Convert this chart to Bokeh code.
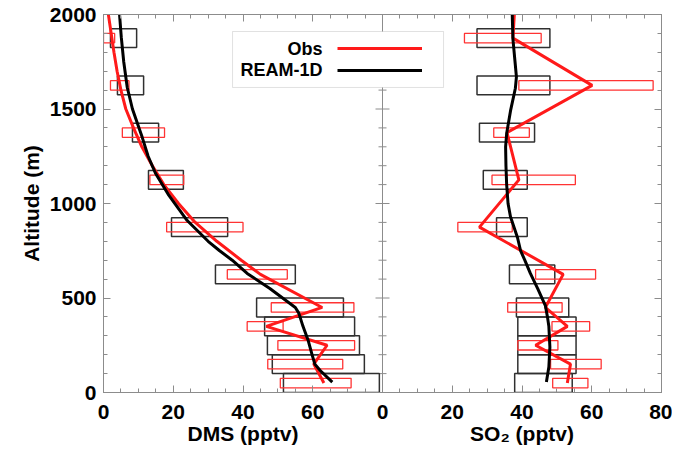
from bokeh.plotting import figure
from bokeh.models import (Range1d, LinearAxis, FixedTicker, Span, Label,
                          BoxAnnotation, Legend, LegendItem)
from bokeh.embed import file_html
from bokeh.resources import INLINE

# ---------------- data ----------------
# altitude bins (m) of the aircraft profiles
bin_alt = [1875, 1625, 1375, 1125, 875, 625, 450, 350, 250, 150, 50]

# DMS (pptv): model (black boxes) and observation (red boxes) ranges
dms_model_lo = [2.0, 4.0, 8.3, 12.9, 19.5, 32.1, 43.9, 46.2, 47.0, 48.4, 51.6]
dms_model_hi = [9.5, 11.5, 15.8, 22.9, 35.6, 55.0, 68.8, 72.0, 73.4, 74.8, 79.1]
dms_obs_lo = [0.0, 2.0, 5.4, 13.3, 18.1, 35.5, 48.1, 41.2, 50.0, 47.1, 50.7]
dms_obs_hi = [3.2, 7.3, 17.5, 23.0, 40.0, 52.7, 71.8, 51.5, 72.0, 68.6, 71.0]

# SO2 (pptv): model and observation ranges
so2_model_lo = [27.1, 27.1, 27.8, 28.9, 32.7, 36.4, 38.4, 38.8, 38.8, 38.8, 37.9]
so2_model_hi = [48.0, 48.0, 43.6, 41.5, 41.5, 49.4, 53.4, 55.5, 55.5, 55.5, 54.4]
so2_obs_lo = [23.5, 39.1, 31.9, 31.4, 21.6, 43.9, 35.9, 48.6, 38.8, 48.2, 48.8]
so2_obs_hi = [45.5, 77.6, 42.1, 55.3, 37.2, 61.1, 51.5, 59.4, 50.3, 62.7, 58.9]

# Obs profiles (red lines)
dms_obs_alt = [2000, 1900, 1800, 1700, 1600, 1500, 1400, 1300, 1200, 1100,
               1000, 900, 800, 700, 625, 450, 350, 250, 150, 50]
dms_obs_val = [1.4, 2.2, 3.0, 3.9, 5.0, 6.4, 8.6, 11.0, 14.0, 17.3,
               21.5, 26.3, 32.5, 39.5, 45.0, 62.7, 46.7, 64.1, 60.3, 63.2]
so2_obs_alt = [2000, 1875, 1625, 1375, 1125, 875, 625, 450, 350, 250, 150, 50]
so2_obs_val = [37.8, 37.4, 60.1, 35.7, 39.1, 27.8, 51.8, 46.7, 53.0, 43.9, 53.9, 53.0]

# REAM-1D profiles (black lines)
dms_mod_alt = [2000, 1880, 1750, 1615, 1500, 1350, 1250, 1160, 1050, 910, 800,
               750, 700, 630, 550, 450, 420, 350, 275, 200, 150, 115, 55]
dms_mod_val = [4.6, 5.1, 5.8, 6.8, 8.3, 11.1, 12.8, 14.9, 18.5, 24.0, 30.0,
               33.3, 36.9, 41.2, 47.7, 55.0, 56.0, 57.2, 58.7, 59.8, 60.6, 62.2, 65.6]
so2_mod_alt = [2000, 1870, 1750, 1670, 1610, 1490, 1370, 1300, 1200, 1100, 1000,
               930, 820, 750, 700, 630, 550, 460, 400, 350, 240, 135, 55]
so2_mod_val = [37.2, 37.4, 38.0, 38.4, 38.1, 36.7, 35.6, 35.3, 35.4, 35.6, 36.0,
               36.7, 38.7, 39.6, 40.8, 42.4, 44.5, 46.7, 47.3, 47.7, 48.0, 47.7, 47.0]

# axes / tick labels
y_ticks = [0, 500, 1000, 1500, 2000]
dms_ticks = [0, 20, 40, 60]
so2_ticks = [0, 20, 40, 60, 80]
panel_titles = ["DMS (pptv)", "SO\u2082 (pptv)"]
series_names = ["Obs", "REAM-1D"]

# ---------------- styling constants ----------------
PANEL = 80            # x extent of each panel
BIN_HALF = 50         # half height of model boxes (m)
OBS_HALF = 25         # half height of obs boxes (m)
AX_COL = "#8c8c8c"
FONT = "Liberation Sans"
RED = "#ff1a1a"

p = figure(width=672, height=450,
           x_range=Range1d(0, 2 * PANEL), y_range=Range1d(0, 2000),
           output_backend="svg", toolbar_location=None,
           min_border_left=103, min_border_right=11, min_border_top=14,
           min_border_bottom=58, background_fill_color="white",
           border_fill_color="white")
p.extra_x_ranges = {"so2": Range1d(-PANEL, PANEL)}
p.grid.visible = False
p.outline_line_color = AX_COL

# divider between the two panels
p.add_layout(Span(location=PANEL, dimension="height", line_color=AX_COL, line_width=1))
y_minor = list(range(0, 2001, 100))
div_major = [t for t in y_ticks if 0 < t < 2000]
div_minor = [t for t in y_minor if t not in y_ticks]
p.scatter(x=[PANEL] * len(div_major), y=div_major, marker="dash", size=14,
          line_color=AX_COL, line_width=1)
p.scatter(x=[PANEL] * len(div_minor), y=div_minor, marker="dash", size=8,
          line_color=AX_COL, line_width=1)

def box_edges(half):
    return [a - half for a in bin_alt], [a + half for a in bin_alt]

mb, mt = box_edges(BIN_HALF)
ob, ot = box_edges(OBS_HALF)

# DMS panel
p.quad(left=dms_model_lo, right=dms_model_hi, bottom=mb, top=mt,
       fill_color=None, line_color="#303030", line_width=1.5)
p.quad(left=dms_obs_lo, right=dms_obs_hi, bottom=ob, top=ot,
       fill_color=None, line_color="#ff3333", line_width=1.3)
r_obs = p.line(dms_obs_val, dms_obs_alt, line_color=RED, line_width=3)
r_mod = p.line(dms_mod_val, dms_mod_alt, line_color="black", line_width=3)

# SO2 panel
p.quad(left=so2_model_lo, right=so2_model_hi, bottom=mb, top=mt,
       fill_color=None, line_color="#303030", line_width=1.5, x_range_name="so2")
p.quad(left=so2_obs_lo, right=so2_obs_hi, bottom=ob, top=ot,
       fill_color=None, line_color="#ff3333", line_width=1.3, x_range_name="so2")
p.line(so2_obs_val, so2_obs_alt, line_color=RED, line_width=3, x_range_name="so2")
p.line(so2_mod_val, so2_mod_alt, line_color="black", line_width=3, x_range_name="so2")

# ---------------- axes ----------------
x_major = dms_ticks + [PANEL + t for t in so2_ticks]
x_minor = list(range(0, 2 * PANEL + 1, 5))
x_ticker = FixedTicker(ticks=x_major, minor_ticks=x_minor)
y_ticker = FixedTicker(ticks=y_ticks, minor_ticks=y_minor)

def style_axis(ax, labels=True):
    ax.axis_line_color = AX_COL
    ax.major_tick_line_color = AX_COL
    ax.minor_tick_line_color = AX_COL
    ax.major_tick_in = 7
    ax.major_tick_out = 0
    ax.minor_tick_in = 4
    ax.minor_tick_out = 0
    ax.major_label_text_font = FONT
    ax.major_label_text_font_style = "bold"
    ax.major_label_text_font_size = "21px" if labels else "0px"
    ax.major_label_text_color = "black"
    ax.axis_label_text_font = FONT
    ax.axis_label_text_font_style = "bold"
    ax.axis_label_text_font_size = "21px"
    ax.axis_label_text_color = "black"

xb = p.xaxis[0]
xb.ticker = x_ticker
xb.major_label_overrides = {PANEL + t: str(t) for t in so2_ticks}
style_axis(xb)
xb.major_label_standoff = 12

yl = p.yaxis[0]
yl.ticker = y_ticker
style_axis(yl)
yl.major_label_standoff = 7
yl.axis_label = "Altitude (m)"
yl.axis_label_standoff = 4

xt = LinearAxis(ticker=x_ticker, major_label_overrides={t: "" for t in x_major},
                major_label_standoff=0)
style_axis(xt, labels=False)
p.add_layout(xt, "above")

yr = LinearAxis(ticker=y_ticker, major_label_overrides={t: "" for t in y_ticks},
                major_label_standoff=0)
style_axis(yr, labels=False)
p.add_layout(yr, "right")

# panel titles: a second bottom axis whose labels sit at the panel centres
title_pos = [PANEL / 2, PANEL + PANEL / 2]
xtitle = LinearAxis(ticker=FixedTicker(ticks=title_pos, minor_ticks=[]),
                    major_label_overrides=dict(zip(title_pos, panel_titles)),
                    major_label_standoff=0, axis_line_color=None,
                    major_tick_line_color=None, minor_tick_line_color=None,
                    major_tick_in=0, major_tick_out=0,
                    major_label_text_font=FONT, major_label_text_font_style="bold",
                    major_label_text_font_size="21px", major_label_text_color="black")
p.add_layout(xtitle, "below")

# ---------------- legend ----------------
p.add_layout(BoxAnnotation(left=37.0, right=97.5, bottom=1614, top=1910,
                           fill_color="white", fill_alpha=1.0,
                           line_color="#9a9a9a", line_width=1))
for name, ly in zip(series_names, [1820, 1704]):
    p.add_layout(Label(x=62.8, y=ly, text=name, text_align="right",
                       text_baseline="middle", text_font=FONT,
                       text_font_style="bold", text_font_size="18px",
                       text_color="black"))
legend = Legend(items=[LegendItem(label=" ", renderers=[r_obs]),
                       LegendItem(label=" ", renderers=[r_mod])],
                location=(234, 312), orientation="vertical",
                glyph_width=85, glyph_height=20, label_width=0, label_height=20,
                label_standoff=0, spacing=2, padding=0, margin=0,
                border_line_color=None, background_fill_color=None,
                label_text_font_size="1px")
p.add_layout(legend)

open("out.html", "w").write(file_html(p, INLINE))
